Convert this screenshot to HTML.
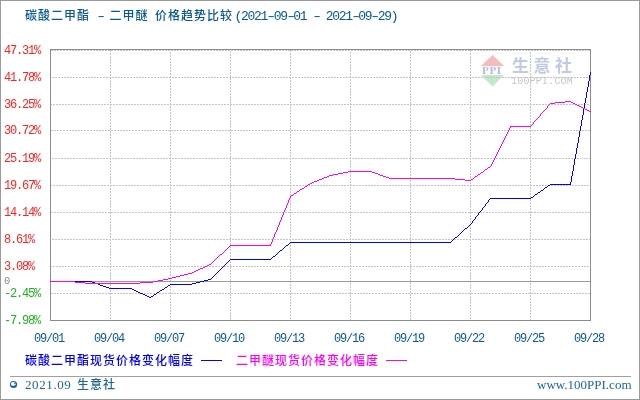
<!DOCTYPE html>
<html><head><meta charset="utf-8"><title>碳酸二甲酯 - 二甲醚 价格趋势比较</title>
<style>
html,body{margin:0;padding:0;background:#fff;}
#c{position:relative;width:640px;height:400px;overflow:hidden;background:#fff;}
#c div{position:absolute;white-space:nowrap;}
.cjk{font-family:'Liberation Sans','Noto Sans CJK SC',sans-serif;font-size:12px;line-height:13px;letter-spacing:1px;font-weight:500;}
.yl{left:4px;font-family:'Liberation Mono','Noto Sans CJK SC',monospace;font-size:12px;line-height:12px;letter-spacing:-1.2px;}
.xl{top:333px;font-family:'Liberation Mono','Noto Sans CJK SC',monospace;font-size:12px;line-height:12px;letter-spacing:-1.2px;color:#0b5a96;width:31px;}
.m13{font-family:'Liberation Mono','Noto Sans CJK SC',monospace;font-size:13px;line-height:13px;letter-spacing:-1.3px;font-weight:400;}
.h{display:inline-block;transform:scaleX(1.45);}
svg{position:absolute;left:0;top:0;}
</style></head><body>
<div id="c">
<svg width="640" height="400" viewBox="0 0 640 400" shape-rendering="crispEdges">
<rect x="0.5" y="0.5" width="639" height="399" fill="#fff" stroke="#9a9a9a"/>
<g id="wm">
<polygon points="492.5,55 481,66 504,66" fill="#f5bcbc" shape-rendering="auto"/>
<polygon points="481,75 504,75 492.5,86.5" fill="#c4e9c8" shape-rendering="auto"/>
</g>
<g stroke="#c4c4c4" stroke-width="1" stroke-dasharray="2 1" fill="none">
<line x1="51" y1="50.5" x2="590" y2="50.5"/>
<line x1="52" y1="77.5" x2="590" y2="77.5"/>
<line x1="50" y1="104.5" x2="590" y2="104.5"/>
<line x1="51" y1="130.5" x2="590" y2="130.5"/>
<line x1="52" y1="158.5" x2="590" y2="158.5"/>
<line x1="50" y1="185.5" x2="590" y2="185.5"/>
<line x1="51" y1="212.5" x2="590" y2="212.5"/>
<line x1="52" y1="239.5" x2="590" y2="239.5"/>
<line x1="50" y1="266.5" x2="590" y2="266.5"/>
<line x1="51" y1="293.5" x2="590" y2="293.5"/>
<line x1="110.5" y1="50" x2="110.5" y2="320"/>
<line x1="170.5" y1="52" x2="170.5" y2="320"/>
<line x1="230.5" y1="51" x2="230.5" y2="320"/>
<line x1="290.5" y1="50" x2="290.5" y2="320"/>
<line x1="350.5" y1="52" x2="350.5" y2="320"/>
<line x1="410.5" y1="51" x2="410.5" y2="320"/>
<line x1="470.5" y1="50" x2="470.5" y2="320"/>
<line x1="530.5" y1="52" x2="530.5" y2="320"/>
</g>

<line x1="50" y1="281.5" x2="590" y2="281.5" stroke="#9a9a9a"/>
<rect x="50.5" y="49.5" width="540" height="271" fill="none" stroke="#8c8c8c"/>
<path d="M590 72h1v1h-1zM590 73h1v1h-1zM590 74h1v1h-1zM589 75h1v1h-1zM589 76h1v1h-1zM589 77h1v1h-1zM589 78h1v1h-1zM589 79h1v1h-1zM589 80h1v1h-1zM588 81h1v1h-1zM588 82h1v1h-1zM588 83h1v1h-1zM588 84h1v1h-1zM588 85h1v1h-1zM588 86h1v1h-1zM587 87h1v1h-1zM587 88h1v1h-1zM587 89h1v1h-1zM587 90h1v1h-1zM587 91h1v1h-1zM586 92h1v1h-1zM586 93h1v1h-1zM586 94h1v1h-1zM586 95h1v1h-1zM586 96h1v1h-1zM586 97h1v1h-1zM585 98h1v1h-1zM585 99h1v1h-1zM585 100h1v1h-1zM585 101h1v1h-1zM585 102h1v1h-1zM584 103h1v1h-1zM584 104h1v1h-1zM584 105h1v1h-1zM584 106h1v1h-1zM584 107h1v1h-1zM584 108h1v1h-1zM583 109h1v1h-1zM583 110h1v1h-1zM583 111h1v1h-1zM583 112h1v1h-1zM583 113h1v1h-1zM583 114h1v1h-1zM582 115h1v1h-1zM582 116h1v1h-1zM582 117h1v1h-1zM582 118h1v1h-1zM582 119h1v1h-1zM581 120h1v1h-1zM581 121h1v1h-1zM581 122h1v1h-1zM581 123h1v1h-1zM581 124h1v1h-1zM581 125h1v1h-1zM580 126h1v1h-1zM580 127h1v1h-1zM580 128h1v1h-1zM580 129h1v1h-1zM580 130h1v1h-1zM579 131h1v1h-1zM579 132h1v1h-1zM579 133h1v1h-1zM579 134h1v1h-1zM579 135h1v1h-1zM579 136h1v1h-1zM578 137h1v1h-1zM578 138h1v1h-1zM578 139h1v1h-1zM578 140h1v1h-1zM578 141h1v1h-1zM578 142h1v1h-1zM577 143h1v1h-1zM577 144h1v1h-1zM577 145h1v1h-1zM577 146h1v1h-1zM577 147h1v1h-1zM576 148h1v1h-1zM576 149h1v1h-1zM576 150h1v1h-1zM576 151h1v1h-1zM576 152h1v1h-1zM576 153h1v1h-1zM575 154h1v1h-1zM575 155h1v1h-1zM575 156h1v1h-1zM575 157h1v1h-1zM575 158h1v1h-1zM574 159h1v1h-1zM574 160h1v1h-1zM574 161h1v1h-1zM574 162h1v1h-1zM574 163h1v1h-1zM574 164h1v1h-1zM573 165h1v1h-1zM573 166h1v1h-1zM573 167h1v1h-1zM573 168h1v1h-1zM573 169h1v1h-1zM573 170h1v1h-1zM572 171h1v1h-1zM572 172h1v1h-1zM572 173h1v1h-1zM572 174h1v1h-1zM572 175h1v1h-1zM571 176h1v1h-1zM571 177h1v1h-1zM571 178h1v1h-1zM571 179h1v1h-1zM571 180h1v1h-1zM571 181h1v1h-1zM570 182h1v1h-1zM570 183h1v1h-1zM550 184h21v1h-21zM548 185h2v1h-2zM547 186h1v1h-1zM545 187h2v1h-2zM544 188h1v1h-1zM543 189h1v1h-1zM541 190h2v1h-2zM540 191h1v1h-1zM538 192h2v1h-2zM537 193h1v1h-1zM535 194h2v1h-2zM534 195h1v1h-1zM533 196h1v1h-1zM531 197h2v1h-2zM490 198h41v1h-41zM489 199h1v1h-1zM488 200h1v1h-1zM488 201h1v1h-1zM487 202h1v1h-1zM486 203h1v1h-1zM485 204h1v1h-1zM485 205h1v1h-1zM484 206h1v1h-1zM483 207h1v1h-1zM482 208h1v1h-1zM482 209h1v1h-1zM481 210h1v1h-1zM480 211h1v1h-1zM479 212h1v1h-1zM478 213h1v1h-1zM478 214h1v1h-1zM477 215h1v1h-1zM476 216h1v1h-1zM475 217h1v1h-1zM475 218h1v1h-1zM474 219h1v1h-1zM473 220h1v1h-1zM472 221h1v1h-1zM472 222h1v1h-1zM471 223h1v1h-1zM470 224h1v1h-1zM469 225h1v1h-1zM468 226h1v1h-1zM467 227h1v1h-1zM465 228h2v1h-2zM464 229h1v1h-1zM463 230h1v1h-1zM462 231h1v1h-1zM461 232h1v1h-1zM460 233h1v1h-1zM459 234h1v1h-1zM458 235h1v1h-1zM457 236h1v1h-1zM455 237h2v1h-2zM454 238h1v1h-1zM453 239h1v1h-1zM452 240h1v1h-1zM451 241h1v1h-1zM290 242h161v1h-161zM289 243h1v1h-1zM288 244h1v1h-1zM286 245h2v1h-2zM285 246h1v1h-1zM284 247h1v1h-1zM283 248h1v1h-1zM282 249h1v1h-1zM280 250h2v1h-2zM279 251h1v1h-1zM278 252h1v1h-1zM277 253h1v1h-1zM276 254h1v1h-1zM275 255h1v1h-1zM273 256h2v1h-2zM272 257h1v1h-1zM271 258h1v1h-1zM230 259h41v1h-41zM229 260h1v1h-1zM228 261h1v1h-1zM227 262h1v1h-1zM226 263h1v1h-1zM225 264h1v1h-1zM224 265h1v1h-1zM223 266h1v1h-1zM222 267h1v1h-1zM221 268h1v1h-1zM220 269h1v1h-1zM219 270h1v1h-1zM218 271h1v1h-1zM217 272h1v1h-1zM216 273h1v1h-1zM215 274h1v1h-1zM214 275h1v1h-1zM213 276h1v1h-1zM212 277h1v1h-1zM211 278h1v1h-1zM208 279h3v1h-3zM204 280h4v1h-4zM50 281h42v1h-42zM200 281h4v1h-4zM92 282h3v1h-3zM196 282h4v1h-4zM95 283h3v1h-3zM192 283h4v1h-4zM98 284h2v1h-2zM170 284h22v1h-22zM100 285h3v1h-3zM168 285h2v1h-2zM103 286h3v1h-3zM167 286h1v1h-1zM106 287h3v1h-3zM165 287h2v1h-2zM109 288h23v1h-23zM164 288h1v1h-1zM132 289h2v1h-2zM162 289h2v1h-2zM134 290h2v1h-2zM160 290h2v1h-2zM136 291h2v1h-2zM159 291h1v1h-1zM138 292h2v1h-2zM157 292h2v1h-2zM140 293h3v1h-3zM156 293h1v1h-1zM143 294h2v1h-2zM154 294h2v1h-2zM145 295h2v1h-2zM153 295h1v1h-1zM147 296h2v1h-2zM151 296h2v1h-2zM149 297h2v1h-2z" fill="#0000ff"/>
<path d="M565 101h6v1h-6zM555 102h10v1h-10zM571 102h2v1h-2zM550 103h5v1h-5zM573 103h2v1h-2zM549 104h1v1h-1zM575 104h2v1h-2zM548 105h1v1h-1zM577 105h2v1h-2zM547 106h1v1h-1zM579 106h2v1h-2zM547 107h1v1h-1zM581 107h2v1h-2zM546 108h1v1h-1zM583 108h2v1h-2zM545 109h1v1h-1zM585 109h2v1h-2zM544 110h1v1h-1zM587 110h2v1h-2zM543 111h1v1h-1zM589 111h2v1h-2zM542 112h1v1h-1zM541 113h1v1h-1zM540 114h1v1h-1zM540 115h1v1h-1zM539 116h1v1h-1zM538 117h1v1h-1zM537 118h1v1h-1zM536 119h1v1h-1zM535 120h1v1h-1zM534 121h1v1h-1zM533 122h1v1h-1zM533 123h1v1h-1zM532 124h1v1h-1zM531 125h1v1h-1zM510 126h21v1h-21zM510 127h1v1h-1zM509 128h1v1h-1zM509 129h1v1h-1zM508 130h1v1h-1zM508 131h1v1h-1zM507 132h1v1h-1zM507 133h1v1h-1zM506 134h1v1h-1zM506 135h1v1h-1zM505 136h1v1h-1zM505 137h1v1h-1zM504 138h1v1h-1zM504 139h1v1h-1zM503 140h1v1h-1zM503 141h1v1h-1zM502 142h1v1h-1zM502 143h1v1h-1zM501 144h1v1h-1zM501 145h1v1h-1zM500 146h1v1h-1zM500 147h1v1h-1zM499 148h1v1h-1zM499 149h1v1h-1zM498 150h1v1h-1zM498 151h1v1h-1zM497 152h1v1h-1zM497 153h1v1h-1zM496 154h1v1h-1zM496 155h1v1h-1zM495 156h1v1h-1zM495 157h1v1h-1zM494 158h1v1h-1zM494 159h1v1h-1zM493 160h1v1h-1zM493 161h1v1h-1zM492 162h1v1h-1zM492 163h1v1h-1zM491 164h1v1h-1zM491 165h1v1h-1zM490 166h1v1h-1zM488 167h2v1h-2zM487 168h1v1h-1zM485 169h2v1h-2zM484 170h1v1h-1zM348 171h24v1h-24zM483 171h1v1h-1zM343 172h5v1h-5zM372 172h3v1h-3zM481 172h2v1h-2zM338 173h5v1h-5zM375 173h3v1h-3zM480 173h1v1h-1zM333 174h5v1h-5zM378 174h2v1h-2zM478 174h2v1h-2zM329 175h4v1h-4zM380 175h3v1h-3zM477 175h1v1h-1zM327 176h2v1h-2zM383 176h3v1h-3zM475 176h2v1h-2zM324 177h3v1h-3zM386 177h3v1h-3zM474 177h1v1h-1zM322 178h2v1h-2zM389 178h66v1h-66zM473 178h1v1h-1zM319 179h3v1h-3zM455 179h10v1h-10zM471 179h2v1h-2zM317 180h2v1h-2zM465 180h6v1h-6zM314 181h3v1h-3zM312 182h2v1h-2zM310 183h2v1h-2zM308 184h2v1h-2zM307 185h1v1h-1zM305 186h2v1h-2zM304 187h1v1h-1zM302 188h2v1h-2zM300 189h2v1h-2zM299 190h1v1h-1zM297 191h2v1h-2zM296 192h1v1h-1zM294 193h2v1h-2zM293 194h1v1h-1zM291 195h2v1h-2zM290 196h1v1h-1zM290 197h1v1h-1zM289 198h1v1h-1zM289 199h1v1h-1zM288 200h1v1h-1zM288 201h1v1h-1zM288 202h1v1h-1zM287 203h1v1h-1zM287 204h1v1h-1zM286 205h1v1h-1zM286 206h1v1h-1zM286 207h1v1h-1zM285 208h1v1h-1zM285 209h1v1h-1zM284 210h1v1h-1zM284 211h1v1h-1zM283 212h1v1h-1zM283 213h1v1h-1zM283 214h1v1h-1zM282 215h1v1h-1zM282 216h1v1h-1zM281 217h1v1h-1zM281 218h1v1h-1zM281 219h1v1h-1zM280 220h1v1h-1zM280 221h1v1h-1zM279 222h1v1h-1zM279 223h1v1h-1zM279 224h1v1h-1zM278 225h1v1h-1zM278 226h1v1h-1zM277 227h1v1h-1zM277 228h1v1h-1zM277 229h1v1h-1zM276 230h1v1h-1zM276 231h1v1h-1zM275 232h1v1h-1zM275 233h1v1h-1zM274 234h1v1h-1zM274 235h1v1h-1zM274 236h1v1h-1zM273 237h1v1h-1zM273 238h1v1h-1zM272 239h1v1h-1zM272 240h1v1h-1zM272 241h1v1h-1zM271 242h1v1h-1zM271 243h1v1h-1zM270 244h1v1h-1zM230 245h41v1h-41zM229 246h1v1h-1zM228 247h1v1h-1zM227 248h1v1h-1zM226 249h1v1h-1zM225 250h1v1h-1zM224 251h1v1h-1zM223 252h1v1h-1zM222 253h1v1h-1zM220 254h2v1h-2zM219 255h1v1h-1zM218 256h1v1h-1zM217 257h1v1h-1zM216 258h1v1h-1zM215 259h1v1h-1zM214 260h1v1h-1zM213 261h1v1h-1zM212 262h1v1h-1zM211 263h1v1h-1zM209 264h2v1h-2zM207 265h2v1h-2zM205 266h2v1h-2zM203 267h2v1h-2zM200 268h3v1h-3zM198 269h2v1h-2zM196 270h2v1h-2zM194 271h2v1h-2zM192 272h2v1h-2zM188 273h4v1h-4zM184 274h4v1h-4zM180 275h4v1h-4zM176 276h4v1h-4zM172 277h4v1h-4zM168 278h4v1h-4zM163 279h5v1h-5zM158 280h5v1h-5zM50 281h25v1h-25zM153 281h5v1h-5zM75 282h10v1h-10zM140 282h13v1h-13zM85 283h55v1h-55z" fill="#ff00ff"/>
<line x1="201" y1="360.5" x2="222" y2="360.5" stroke="#0000ff"/>
<line x1="386" y1="360.5" x2="407" y2="360.5" stroke="#ff00ff"/>
<line x1="10" y1="376.5" x2="631" y2="376.5" stroke="#a0a0a0"/>
<g shape-rendering="auto"><circle cx="13.5" cy="384.5" r="3.6" fill="#1a5f95"/><ellipse cx="13.3" cy="384" rx="2.5" ry="2.1" fill="#fff"/><circle cx="15" cy="383.3" r="0.75" fill="#1a5f95"/><path d="M12,386.2 L15.8,385.2 L15.2,386.6 Z" fill="#1a5f95"/></g>
</svg>
<div class="cjk" style="left:25px;top:10px;color:#075894">碳酸二甲酯<span class="m13"> <span class="h">-</span> </span>二甲醚<span class="m13"> </span>价格趋势比较<span class="m13" style="margin-left:1.5px">(2021<span class="h">-</span>09<span class="h">-</span>01 <span class="h">-</span> 2021<span class="h">-</span>09<span class="h">-</span>29)</span></div>
<div class="yl" style="top:45px;color:#ff2222">47.31%</div>
<div class="yl" style="top:72px;color:#ff2222">41.78%</div>
<div class="yl" style="top:99px;color:#ff2222">36.25%</div>
<div class="yl" style="top:125px;color:#ff2222">30.72%</div>
<div class="yl" style="top:153px;color:#ff2222">25.19%</div>
<div class="yl" style="top:180px;color:#ff2222">19.67%</div>
<div class="yl" style="top:207px;color:#ff2222">14.14%</div>
<div class="yl" style="top:234px;color:#ff2222">8.61%</div>
<div class="yl" style="top:261px;color:#ff2222">3.08%</div>
<div class="yl" style="top:288px;color:#1fb21f">-2.45%</div>
<div class="yl" style="top:315px;color:#1fb21f">-7.98%</div>
<div class="yl" style="top:276px;color:#888;font-size:10.5px;line-height:10px;left:4px">0</div>
<div class="xl" style="left:34px">09/01</div>
<div class="xl" style="left:94px">09/04</div>
<div class="xl" style="left:154px">09/07</div>
<div class="xl" style="left:214px">09/10</div>
<div class="xl" style="left:274px">09/13</div>
<div class="xl" style="left:334px">09/16</div>
<div class="xl" style="left:394px">09/19</div>
<div class="xl" style="left:454px">09/22</div>
<div class="xl" style="left:514px">09/25</div>
<div class="xl" style="left:574px">09/28</div>
<div class="cjk" style="left:25px;top:355px;color:#0000ff">碳酸二甲酯现货价格变化幅度</div>
<div class="cjk" style="left:236px;top:355px;color:#ff00ff">二甲醚现货价格变化幅度</div>
<div style="left:25px;top:378px;font-family:'Liberation Serif','Noto Serif CJK SC',serif;font-size:13px;line-height:13px;letter-spacing:0.6px;color:#1b6798">2021.09</div>
<div class="cjk" style="left:77px;top:379px;color:#1b6798">生意社</div>
<div style="left:537px;top:378px;font-family:'Liberation Serif','Noto Serif CJK SC',serif;font-size:13px;line-height:13px;color:#1b6798">www.100PPI.com</div>
<div class="cjk" style="left:512px;top:58px;font-size:17px;line-height:17px;font-weight:bold;color:#c3c9e2;letter-spacing:4.5px">生意社</div>
<div style="left:511px;top:77px;font-family:'Liberation Mono',monospace;font-size:10px;line-height:10px;color:#c6c6c6;letter-spacing:0.2px">100PPI.COM</div>
<div style="left:482px;top:66px;font-family:'Liberation Serif',serif;font-weight:bold;font-size:10px;line-height:10px;color:#b4b9de;letter-spacing:0.5px;transform:scaleX(1.12);transform-origin:0 0">PPI</div>
</div>
</body></html>
